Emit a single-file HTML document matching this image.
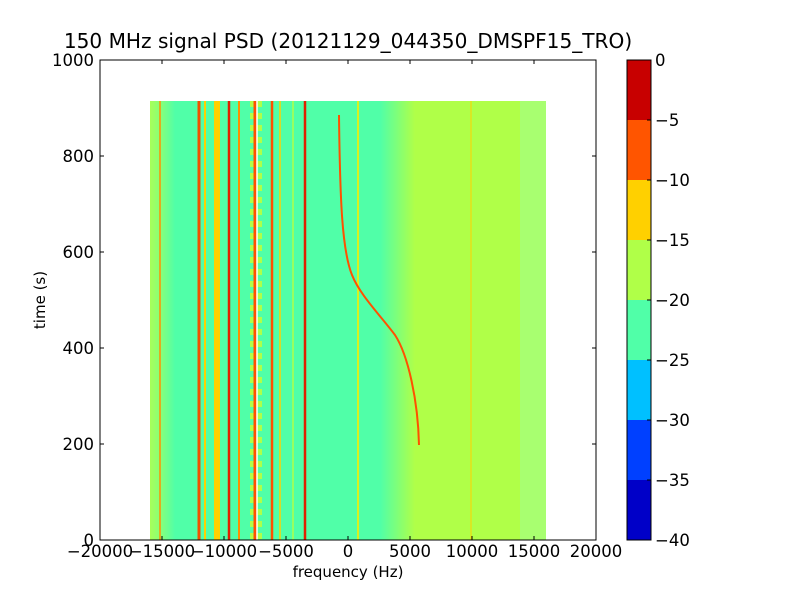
<!DOCTYPE html>
<html><head><style>
body{margin:0;background:#fff;}
svg text{font-family:"DejaVu Sans","Liberation Sans",sans-serif;}
</style></head><body>
<svg width="800" height="600" xmlns="http://www.w3.org/2000/svg">
<rect width="800" height="600" fill="#fff"/>
<defs>
<linearGradient id="tr" x1="0" x2="1">
<stop offset="0" stop-color="#50ffa8"/><stop offset="1" stop-color="#b0ff48"/>
</linearGradient>
<linearGradient id="lf" x1="0" x2="1">
<stop offset="0" stop-color="#a8ff58"/><stop offset="0.5" stop-color="#80ff80"/><stop offset="1" stop-color="#50ffa8"/>
</linearGradient>
</defs>
<rect x="150" y="101" width="396" height="439" fill="#50ffa8"/>
<rect x="150" y="101" width="25" height="439" fill="url(#lf)"/>
<rect x="380" y="101" width="35" height="439" fill="url(#tr)"/>
<rect x="415" y="101" width="131" height="439" fill="#b0ff48"/>
<rect x="520" y="101" width="26" height="439" fill="#a8ff70"/>
<g stroke-width="2" fill="none">
<line x1="160" y1="101" x2="160" y2="540" stroke="#ff9000" stroke-width="1.5"/>
<line x1="199" y1="101" x2="199" y2="540" stroke="#f05000" stroke-width="3"/>
<line x1="205" y1="101" x2="205" y2="540" stroke="#ffd000"/>
<line x1="217" y1="101" x2="217" y2="540" stroke="#ffd000" stroke-width="6"/>
<line x1="229" y1="101" x2="229" y2="540" stroke="#e02000" stroke-width="2.5"/>
<line x1="239" y1="101" x2="239" y2="540" stroke="#ff9000"/>
<line x1="256" y1="101" x2="256" y2="540" stroke="#b0ff48" stroke-width="12" stroke-dasharray="6,6"/>
<line x1="255" y1="101" x2="255" y2="540" stroke="#ff5000" stroke-width="3"/>
<line x1="257" y1="101" x2="257" y2="540" stroke="#ffffff" stroke-width="1.5"/>
<line x1="272" y1="101" x2="272" y2="540" stroke="#ff5000" stroke-width="2.5"/>
<line x1="280" y1="101" x2="280" y2="540" stroke="#ffd000" stroke-width="1.5"/>
<line x1="293" y1="101" x2="293" y2="540" stroke="#b0ff48" stroke-width="1.5"/>
<line x1="305" y1="101" x2="305" y2="540" stroke="#e02000" stroke-width="2.5"/>
<line x1="358" y1="101" x2="358" y2="540" stroke="#d8f020" stroke-width="2"/>
<line x1="471" y1="101" x2="471" y2="540" stroke="#ffd000" stroke-width="1"/>
<path d="M339,115 C340,200 342,250 352,275 C360,295 380,315 395,335 C408,355 418,400 419,445" stroke="#ff5000" stroke-width="2"/>
</g>
<rect x="100" y="60" width="496" height="480" fill="none" stroke="#000"/>
<g stroke="#000">
<line x1="100" y1="540" x2="100" y2="536"/><line x1="162" y1="540" x2="162" y2="536"/><line x1="224" y1="540" x2="224" y2="536"/><line x1="286" y1="540" x2="286" y2="536"/><line x1="348" y1="540" x2="348" y2="536"/><line x1="410" y1="540" x2="410" y2="536"/><line x1="472" y1="540" x2="472" y2="536"/><line x1="534" y1="540" x2="534" y2="536"/>
<line x1="162" y1="60" x2="162" y2="64"/><line x1="224" y1="60" x2="224" y2="64"/><line x1="286" y1="60" x2="286" y2="64"/><line x1="348" y1="60" x2="348" y2="64"/><line x1="410" y1="60" x2="410" y2="64"/><line x1="472" y1="60" x2="472" y2="64"/><line x1="534" y1="60" x2="534" y2="64"/>
<line x1="100" y1="444" x2="104" y2="444"/><line x1="100" y1="348" x2="104" y2="348"/><line x1="100" y1="252" x2="104" y2="252"/><line x1="100" y1="156" x2="104" y2="156"/>
<line x1="596" y1="444" x2="592" y2="444"/><line x1="596" y1="348" x2="592" y2="348"/><line x1="596" y1="252" x2="592" y2="252"/><line x1="596" y1="156" x2="592" y2="156"/>
</g>
<g font-size="16.5" text-anchor="middle">
<text x="100" y="557">−20000</text><text x="162" y="557">−15000</text><text x="224" y="557">−10000</text><text x="286" y="557">−5000</text><text x="348" y="557">0</text><text x="410" y="557">5000</text><text x="472" y="557">10000</text><text x="534" y="557">15000</text><text x="596" y="557">20000</text>
<text x="348" y="577" font-size="15">frequency (Hz)</text>
<text x="348" y="48" font-size="20.1">150 MHz signal PSD (20121129_044350_DMSPF15_TRO)</text>
</g>
<g font-size="16.5" text-anchor="end">
<text x="94" y="546">0</text><text x="94" y="450">200</text><text x="94" y="354">400</text><text x="94" y="258">600</text><text x="94" y="162">800</text><text x="94" y="66">1000</text>
</g>
<text transform="translate(45,300) rotate(-90)" font-size="15" text-anchor="middle">time (s)</text>
<rect x="627" y="60" width="24" height="60" fill="#c80000"/>
<rect x="627" y="120" width="24" height="60" fill="#ff5500"/>
<rect x="627" y="180" width="24" height="60" fill="#ffd000"/>
<rect x="627" y="240" width="24" height="60" fill="#b0ff48"/>
<rect x="627" y="300" width="24" height="60" fill="#50ffa8"/>
<rect x="627" y="360" width="24" height="60" fill="#00c0ff"/>
<rect x="627" y="420" width="24" height="60" fill="#0040ff"/>
<rect x="627" y="480" width="24" height="60" fill="#0000c8"/>
<rect x="627" y="60" width="24" height="480" fill="none" stroke="#000"/>
<g stroke="#000">
<line x1="647" y1="120" x2="651" y2="120"/><line x1="647" y1="180" x2="651" y2="180"/><line x1="647" y1="240" x2="651" y2="240"/><line x1="647" y1="300" x2="651" y2="300"/><line x1="647" y1="360" x2="651" y2="360"/><line x1="647" y1="420" x2="651" y2="420"/><line x1="647" y1="480" x2="651" y2="480"/>
</g>
<g font-size="16.5">
<text x="655" y="66">0</text><text x="655" y="126">−5</text><text x="655" y="186">−10</text><text x="655" y="246">−15</text><text x="655" y="306">−20</text><text x="655" y="366">−25</text><text x="655" y="426">−30</text><text x="655" y="486">−35</text><text x="655" y="546">−40</text>
</g>
</svg>
</body></html>
